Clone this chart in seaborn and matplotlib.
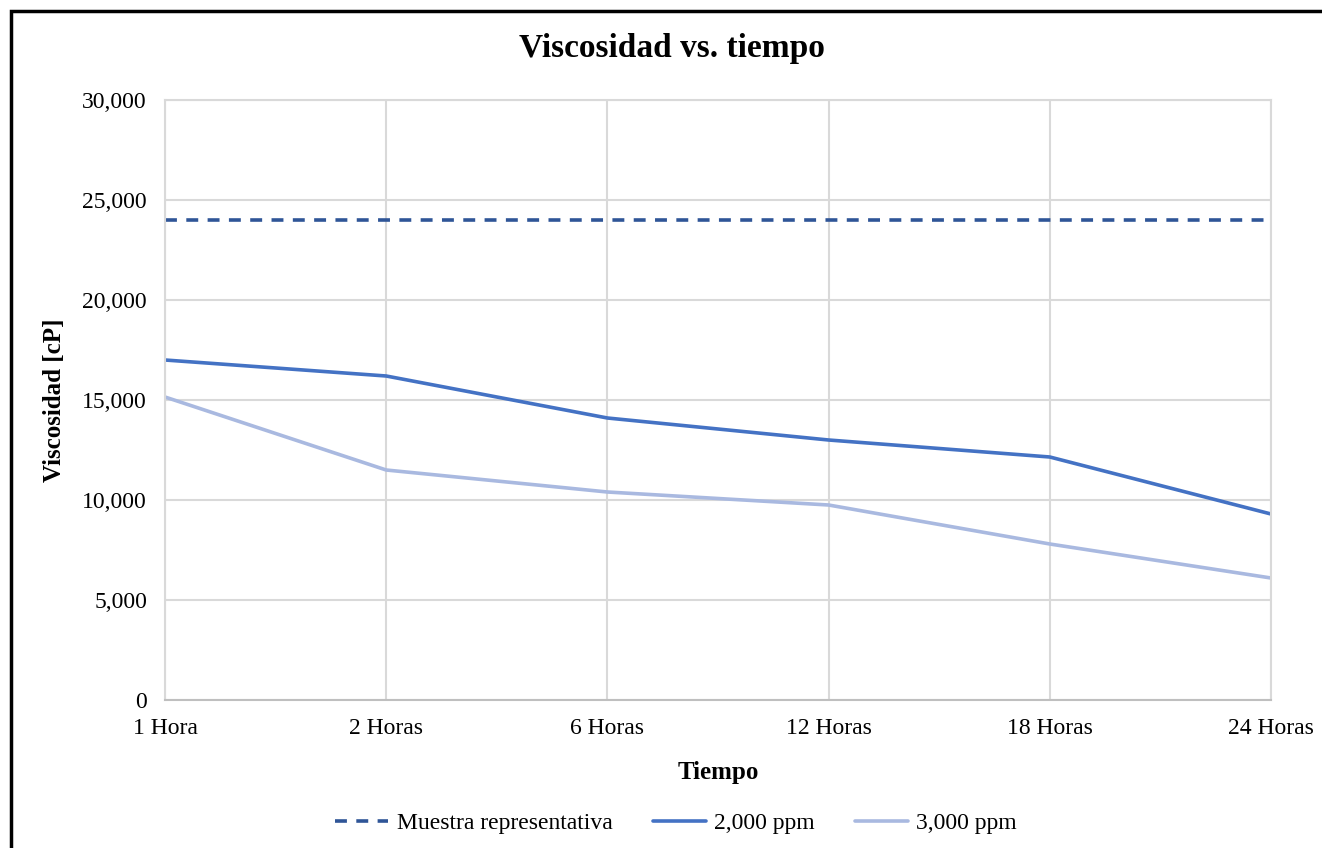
import pandas as pd
import numpy as np
import matplotlib
matplotlib.use("Agg")
import matplotlib.pyplot as plt
import seaborn as sns
from matplotlib.patches import Rectangle

# Data
tiempos = ["1 Hora", "2 Horas", "6 Horas", "12 Horas", "18 Horas", "24 Horas"]
muestra = [24000, 24000, 24000, 24000, 24000, 24000]
ppm_2000 = [17000, 16200, 14100, 13000, 12150, 9300]
ppm_3000 = [15150, 11500, 10400, 9750, 7800, 6100]

series_names = ["Muestra representativa", "2,000 ppm", "3,000 ppm"]
colors = ["#2F5597", "#4472C4", "#A9B9E0"]
dash = (3.3, 2.6)

df = pd.DataFrame({
    "pos": list(range(len(tiempos))) * 3,
    "Viscosidad": muestra + ppm_2000 + ppm_3000,
    "Serie": sum([[n] * len(tiempos) for n in series_names], []),
})

sns.set_style("white")
plt.rcParams["font.family"] = ["Liberation Serif", "DejaVu Serif"]
plt.rcParams["text.color"] = "black"

fig = plt.figure(figsize=(13.22, 8.48), dpi=100)
ax = fig.add_axes([165 / 1322, 1 - 700 / 848, (1271 - 165) / 1322, 600 / 848])

sns.lineplot(data=df, x="pos", y="Viscosidad", hue="Serie", style="Serie",
             hue_order=series_names, style_order=series_names,
             palette=dict(zip(series_names, colors)),
             dashes={series_names[0]: dash, series_names[1]: "", series_names[2]: ""},
             linewidth=2.6, ax=ax, legend=False)

ax.set_xlim(0, len(tiempos) - 1)
ax.set_ylim(0, 30000)
ax.set_xticks(range(len(tiempos)))
ax.set_xticklabels(tiempos)
ax.set_yticks(np.arange(0, 30001, 5000))
ax.set_yticklabels([f"{v:,}" for v in range(0, 30001, 5000)])
ax.tick_params(axis="both", length=0, labelsize=17, colors="black")
ax.tick_params(axis="y", pad=13)
ax.tick_params(axis="x", pad=13)
ax.grid(True, color="#D9D9D9", linewidth=1.5)
ax.set_axisbelow(True)
for s in ax.spines.values():
    s.set_color("#D9D9D9")
    s.set_linewidth(1.5)
ax.spines["bottom"].set_color("#BFBFBF")

ax.set_xlabel("Tiempo", fontsize=18, fontweight="bold", labelpad=16, color="black")
ax.set_ylabel("Viscosidad [cP]", fontsize=18, fontweight="bold", labelpad=12, color="black")
fig.text(672 / 1322, 1 - 49 / 848, "Viscosidad vs. tiempo", fontsize=24,
         fontweight="bold", ha="center", va="center", color="black")

handles = [plt.Line2D([], [], color=colors[0], lw=2.6, dashes=dash),
           plt.Line2D([], [], color=colors[1], lw=2.6),
           plt.Line2D([], [], color=colors[2], lw=2.6)]
fig.legend(handles, series_names, loc="center", ncol=3, frameon=False,
           bbox_to_anchor=(676 / 1322, 1 - 823 / 848), fontsize=17,
           handlelength=2.25, handletextpad=0.35, columnspacing=1.7)

fig.patches.append(Rectangle((11 / 1322, -0.05), 1.1, 1 - 11 / 848 + 0.05,
                             transform=fig.transFigure, fill=False,
                             edgecolor="black", linewidth=2.5))

fig.savefig("out.png", dpi=100)
